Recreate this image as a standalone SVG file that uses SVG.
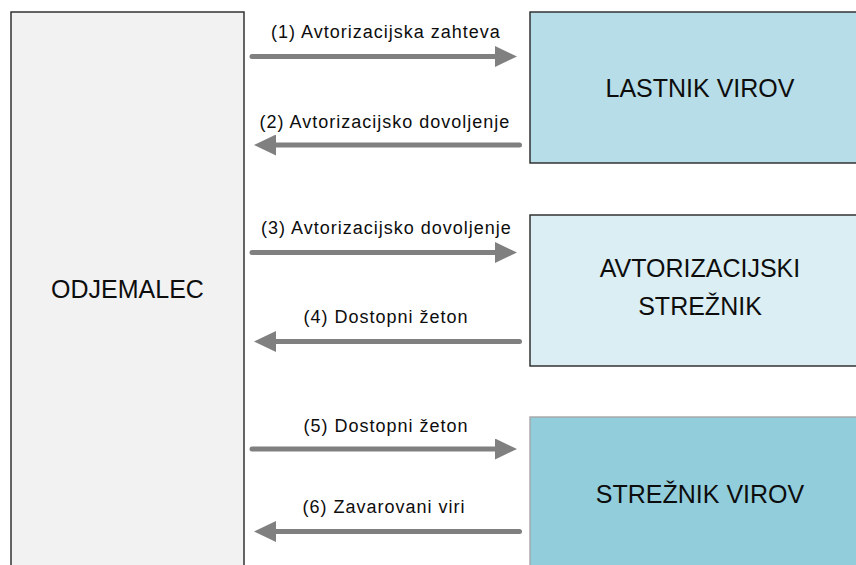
<svg xmlns="http://www.w3.org/2000/svg" width="856" height="565" viewBox="0 0 856 565">
  <style>
    .box { stroke: #262626; stroke-width: 1.4; }
    .title { font-family: "Liberation Sans", Arial, sans-serif; font-size: 25px; fill: #0d0d0d; text-anchor: middle; }
    .label { font-family: "Liberation Sans", Arial, sans-serif; font-size: 18px; letter-spacing: 1px; fill: #0d0d0d; text-anchor: middle; }
    .flow { fill: none; stroke: #808080; stroke-width: 5; stroke-linecap: round; }
  </style>
  <defs>
    <marker id="head" markerUnits="userSpaceOnUse" markerWidth="22" markerHeight="21" refX="0" refY="10.5" orient="auto">
      <path d="M0,0 L22,10.5 L0,21 z" fill="#808080"/>
    </marker>
  </defs>

  <rect width="856" height="565" fill="#ffffff"/>

  <!-- client -->
  <g id="odjemalec">
    <rect class="box" x="11" y="12" width="233" height="580" fill="#f2f2f2"/>
    <text class="title" x="127.5" y="298">ODJEMALEC</text>
  </g>

  <!-- resource owner -->
  <g id="lastnik-virov">
    <rect class="box" x="530" y="12" width="340" height="151" fill="#b7dde8"/>
    <text class="title" x="700" y="97">LASTNIK VIROV</text>
  </g>

  <!-- authorization server -->
  <g id="avtorizacijski-streznik">
    <rect class="box" x="530" y="215" width="340" height="151" fill="#dbeef3"/>
    <text class="title" x="700" y="277">AVTORIZACIJSKI</text>
    <text class="title" x="700" y="315">STREŽNIK</text>
  </g>

  <!-- resource server -->
  <g id="streznik-virov">
    <rect x="530" y="417" width="340" height="170" fill="#92cddc" stroke="#a6a6a6" stroke-width="1.4"/>
    <text class="title" x="700" y="503">STREŽNIK VIROV</text>
  </g>

  <!-- message flows -->
  <g id="connectors">
    <path class="flow" d="M252,56.5 H495" marker-end="url(#head)"/>
    <path class="flow" d="M519.5,145 H276" marker-end="url(#head)"/>
    <path class="flow" d="M252,252.5 H495" marker-end="url(#head)"/>
    <path class="flow" d="M519.5,341.5 H276" marker-end="url(#head)"/>
    <path class="flow" d="M252,449 H495" marker-end="url(#head)"/>
    <path class="flow" d="M519.5,531.5 H276" marker-end="url(#head)"/>

    <text class="label" x="386" y="38">(1) Avtorizacijska zahteva</text>
    <text class="label" x="385" y="127.5">(2) Avtorizacijsko dovoljenje</text>
    <text class="label" x="386.5" y="234">(3) Avtorizacijsko dovoljenje</text>
    <text class="label" x="386" y="323">(4) Dostopni žeton</text>
    <text class="label" x="386" y="431.5">(5) Dostopni žeton</text>
    <text class="label" x="384" y="513">(6) Zavarovani viri</text>
  </g>
</svg>
